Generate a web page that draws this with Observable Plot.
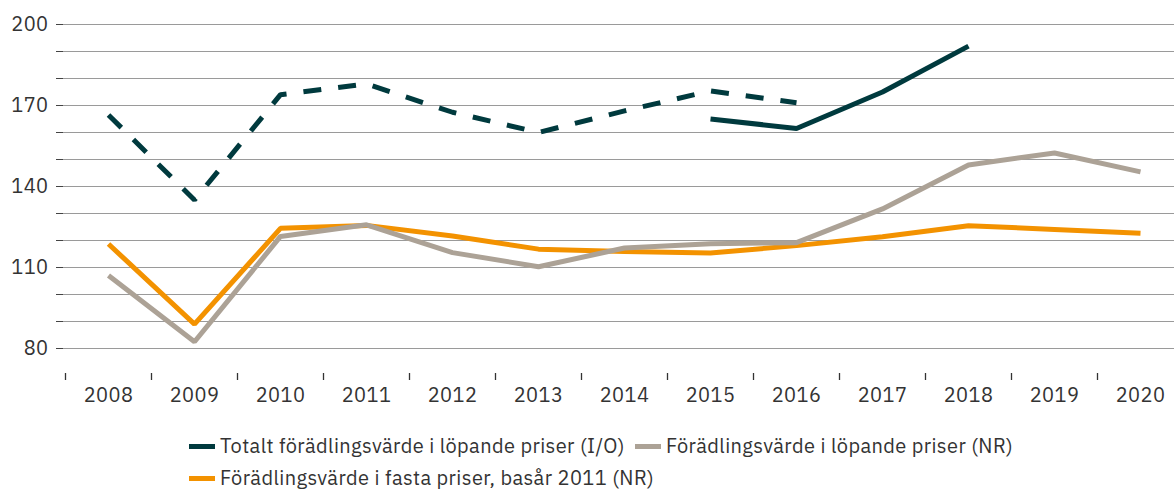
<!DOCTYPE html>
<html>
<head>
<meta charset="utf-8">
<script src="https://cdn.jsdelivr.net/npm/d3@7"></script>
<script src="https://cdn.jsdelivr.net/npm/@observablehq/plot@0.6"></script>
<style>
  html, body { margin: 0; padding: 0; background: #fff; }
  body { width: 1174px; height: 490px; overflow: hidden; font-family: "IBM Plex Sans", Inter, "Noto Sans", sans-serif; color: #333; }
  #chart svg { display: block; }
  .legend { display: flex; flex-wrap: wrap; width: 870px; margin-left: 189px; margin-top: 10px; font-size: 20px; letter-spacing: 0.4px; line-height: 32px; color: #333; }
  .item { display: flex; align-items: center; margin-right: 10px; white-space: nowrap; }
  .sw { width: 26px; height: 5px; margin-right: 5px; }
</style>
</head>
<body>
<div id="chart"></div>
<div class="legend" id="legend"></div>
<script>
const years = [2008, 2009, 2010, 2011, 2012, 2013, 2014, 2015, 2016, 2017, 2018, 2019, 2020];
// Totalt förädlingsvärde (I/O): dashed part 2008–2016, solid part 2015–2018
const ioDashed = [166.5, 135, 174, 178, 167.5, 160, 168, 175.4, 171, null, null, null, null];
const ioSolid  = [null, null, null, null, null, null, null, 165, 161.5, 175, 192, null, null];
const nrCurrent = [107, 82.5, 121.5, 125.8, 115.5, 110.3, 117.2, 118.8, 119.2, 131.7, 148, 152.4, 145.4];
const nrFixed   = [118.7, 89, 124.5, 125.6, 121.7, 116.8, 115.9, 115.4, 118.1, 121.4, 125.5, 124.1, 122.7];
const seriesNames = [
  "Totalt förädlingsvärde i löpande priser (I/O)",
  "Förädlingsvärde i löpande priser (NR)",
  "Förädlingsvärde i fasta priser, basår 2011 (NR)"
];
const colors = ["#003a3e", "#aca296", "#f39200"];
const yTicks = [80, 90, 100, 110, 120, 130, 140, 150, 160, 170, 180, 190, 200];
const yLabels = [80, 110, 140, 170, 200];

const toRows = (vals) => years.map((year, i) => ({year, value: vals[i]})).filter(d => d.value != null);
const bounds = years.map(y => y - 0.5);

const lineStyle = {x: "year", y: "value", strokeWidth: 5, strokeLinejoin: "miter", strokeLinecap: "butt"};

const chart = Plot.plot({
  width: 1174,
  height: 420,
  marginLeft: 63,
  marginRight: 0,
  marginTop: 24,
  marginBottom: 45,
  style: {fontFamily: '"IBM Plex Sans", Inter, "Noto Sans", sans-serif', fontSize: "20px", letterSpacing: "0.4px", color: "#333", background: "#fff"},
  x: {domain: [2007.5, 2020.5], range: [65, 1183]},
  y: {domain: [70, 200]},
  marks: [
    Plot.gridY(yTicks, {stroke: "#9a9a9a", strokeOpacity: 1, strokeWidth: 1.2}),
    Plot.axisY(yTicks, {tickSize: 7, tickPadding: 8, stroke: "#444", label: null, tickFormat: d => yLabels.includes(d) ? String(d) : ""}),
    Plot.axisX(bounds, {tickSize: 7, dy: -2, stroke: "#333", strokeWidth: 1.3, label: null, tickFormat: () => ""}),
    Plot.axisX(years, {tickSize: 0, tickPadding: 12, label: null, tickFormat: d => String(d)}),
    Plot.line(toRows(nrFixed), {...lineStyle, stroke: colors[2]}),
    Plot.line(toRows(nrCurrent), {...lineStyle, stroke: colors[1]}),
    Plot.line(toRows(ioDashed), {...lineStyle, stroke: colors[0], strokeDasharray: "18,17"}),
    Plot.line(toRows(ioSolid), {...lineStyle, stroke: colors[0]})
  ]
});
document.getElementById("chart").append(chart);

const legend = document.getElementById("legend");
seriesNames.forEach((name, i) => {
  const item = document.createElement("div");
  item.className = "item";
  const sw = document.createElement("span");
  sw.className = "sw";
  sw.style.background = colors[i];
  const label = document.createElement("span");
  label.textContent = name;
  item.append(sw, label);
  legend.append(item);
});
</script>
</body>
</html>
